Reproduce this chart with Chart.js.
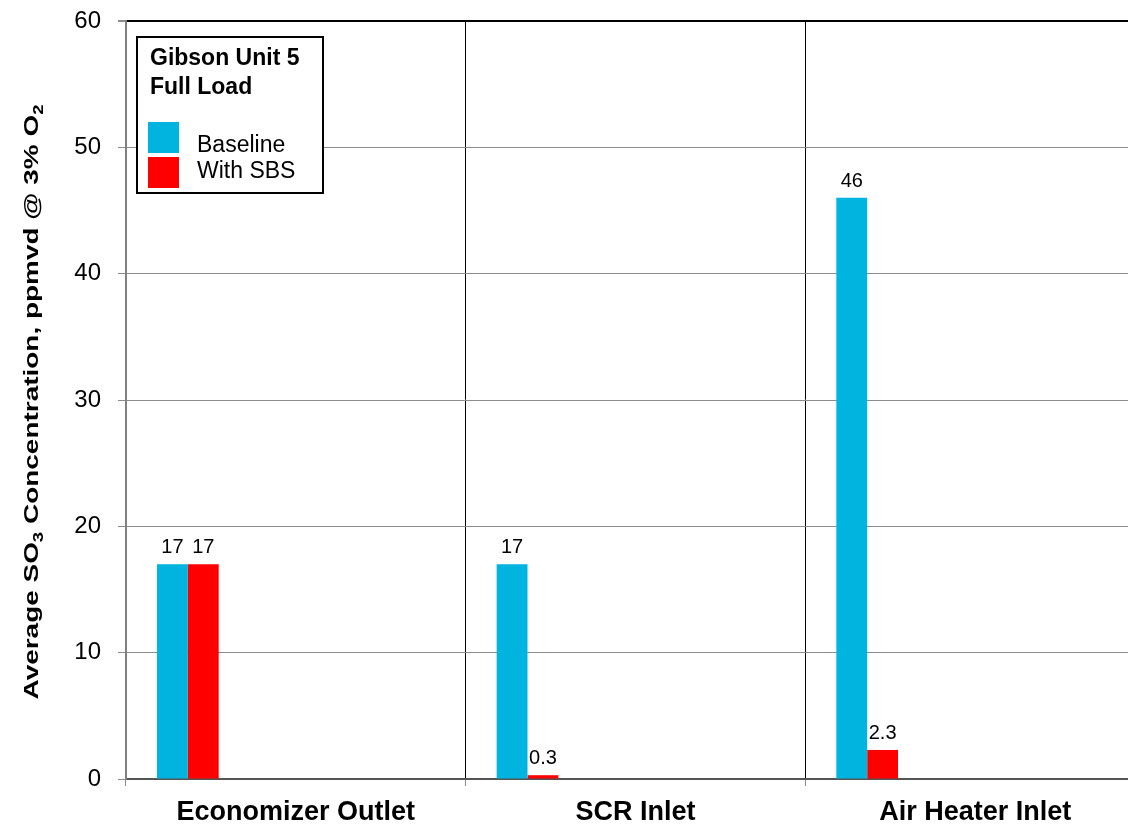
<!DOCTYPE html>
<html>
<head>
<meta charset="utf-8">
<script src="https://cdn.jsdelivr.net/npm/chart.js@4.4.1/dist/chart.umd.min.js"></script>
<style>
  html, body { margin: 0; padding: 0; background: #fff; overflow: hidden; }
  #wrap { width: 1128px; height: 825px; overflow: hidden; }
</style>
</head>
<body>
<div id="wrap"><canvas id="chart1" width="1146" height="825"></canvas></div>
<script>
var FONT = "'Liberation Sans', Arial, sans-serif";

// data
var locations = ['Economizer Outlet', 'SCR Inlet', 'Air Heater Inlet'];
var baseline = [17, 17, 46];
var withSBS = [17, 0.3, 2.3];
var seriesNames = ['Baseline', 'With SBS'];
var seriesColors = ['#00B4E0', '#FF0000'];
var legendTitle = ['Gibson Unit 5', 'Full Load'];
var yTicks = [0, 10, 20, 30, 40, 50, 60];
// empty slots, the original chart had room for 9 bars per group
var spacer = [null, null, null];
var SPACER_COUNT = 7;

var datasets = [
  { label: seriesNames[0], data: baseline, backgroundColor: seriesColors[0] },
  { label: seriesNames[1], data: withSBS, backgroundColor: seriesColors[1] }
];
for (var i = 0; i < SPACER_COUNT; i++) {
  datasets.push({ label: '', data: spacer, backgroundColor: 'rgba(0,0,0,0)', spacer: true });
}

// value labels above the two real series
var valueLabels = {
  id: 'valueLabels',
  afterDatasetsDraw: function (chart) {
    var ctx = chart.ctx;
    ctx.save();
    ctx.font = '20px ' + FONT;
    ctx.fillStyle = '#000';
    ctx.textAlign = 'center';
    ctx.textBaseline = 'alphabetic';
    [0, 1].forEach(function (di) {
      var meta = chart.getDatasetMeta(di);
      meta.data.forEach(function (bar, j) {
        var v = chart.data.datasets[di].data[j];
        if (v == null) return;
        ctx.fillText(String(v), bar.x, bar.y - 11);
      });
    });
    ctx.restore();
  }
};

// boxed legend in the top-left corner of the plot
var boxLegend = {
  id: 'boxLegend',
  afterDraw: function (chart) {
    var ctx = chart.ctx;
    var x0 = 137, y0 = 37;
    ctx.save();
    ctx.fillStyle = '#fff';
    ctx.fillRect(x0, y0, 186, 156);
    ctx.strokeStyle = '#000';
    ctx.lineWidth = 2;
    ctx.strokeRect(x0, y0, 186, 156);

    ctx.fillStyle = '#000';
    ctx.textAlign = 'left';
    ctx.textBaseline = 'alphabetic';
    ctx.font = 'bold 23px ' + FONT;
    ctx.fillText(legendTitle[0], x0 + 13, y0 + 28);
    ctx.fillText(legendTitle[1], x0 + 13, y0 + 57);

    ctx.font = '23px ' + FONT;
    chart.data.datasets.forEach(function (ds, k) {
      if (ds.spacer) return;
      ctx.fillStyle = ds.backgroundColor;
      ctx.fillRect(x0 + 11, y0 + 85 + k * 35, 31, 31);
      ctx.fillStyle = '#000';
      ctx.fillText(ds.label, x0 + 60, y0 + 115 + k * 26);
    });
    ctx.restore();
  }
};

// rotated y title with subscripts, stretched along its length like the original
var yTitle = {
  id: 'yTitle',
  afterDraw: function (chart) {
    var ctx = chart.ctx;
    var parts = [
      ['Average SO', false], ['3', true],
      [' Concentration, ppmvd @ 3% O', false], ['2', true]
    ];
    var big = 'bold 21px ' + FONT, small = 'bold 14px ' + FONT;
    ctx.save();
    var total = 0;
    parts.forEach(function (p) {
      ctx.font = p[1] ? small : big;
      total += ctx.measureText(p[0]).width;
    });
    var cy = (chart.chartArea.top + chart.chartArea.bottom) / 2 + 2;
    ctx.translate(38, cy);
    ctx.rotate(-Math.PI / 2);
    ctx.scale(595 / total, 1);
    ctx.fillStyle = '#000';
    ctx.textBaseline = 'alphabetic';
    ctx.textAlign = 'left';
    var x = -total / 2;
    parts.forEach(function (p) {
      ctx.font = p[1] ? small : big;
      ctx.fillText(p[0], x, p[1] ? 5 : 0);
      x += ctx.measureText(p[0]).width;
    });
    ctx.restore();
  }
};

var chart = new Chart(document.getElementById('chart1'), {
  type: 'bar',
  data: { labels: locations, datasets: datasets },
  options: {
    responsive: false,
    animation: false,
    devicePixelRatio: 1,
    layout: { padding: { top: 21, right: 1, bottom: 0, left: 0 } },
    datasets: { bar: { barPercentage: 1, categoryPercentage: 0.8175, borderWidth: 0 } },
    plugins: {
      legend: { display: false },
      tooltip: { enabled: false },
      title: { display: false }
    },
    scales: {
      x: {
        offset: true,
        grid: {
          offset: true,
          color: function (c) { return c.index === 0 ? 'rgba(0,0,0,0)' : '#000'; },
          lineWidth: 1,
          tickLength: 7,
          tickColor: '#8c8c8c'
        },
        border: { color: '#555', width: 2 },
        ticks: { color: '#000', font: { family: FONT, size: 27, weight: 'bold' }, padding: 10, maxRotation: 0 },
        afterFit: function (s) { s.height = 46; }
      },
      y: {
        min: 0,
        max: 60,
        afterBuildTicks: function (s) { s.ticks = yTicks.map(function (v) { return { value: v }; }); },
        grid: {
          color: function (c) { return c.tick && c.tick.value === 60 ? '#000' : '#8c8c8c'; },
          lineWidth: function (c) { return c.tick && c.tick.value === 60 ? 2 : 1; },
          tickLength: 8,
          tickColor: '#8c8c8c'
        },
        border: { color: '#808080', width: 2 },
        ticks: { color: '#000', font: { family: FONT, size: 24 }, padding: 17 },
        afterFit: function (s) { s.width = 126; s.paddingTop = 0; s.paddingBottom = 0; }
      }
    }
  },
  plugins: [valueLabels, boxLegend, yTitle]
});
</script>
</body>
</html>
